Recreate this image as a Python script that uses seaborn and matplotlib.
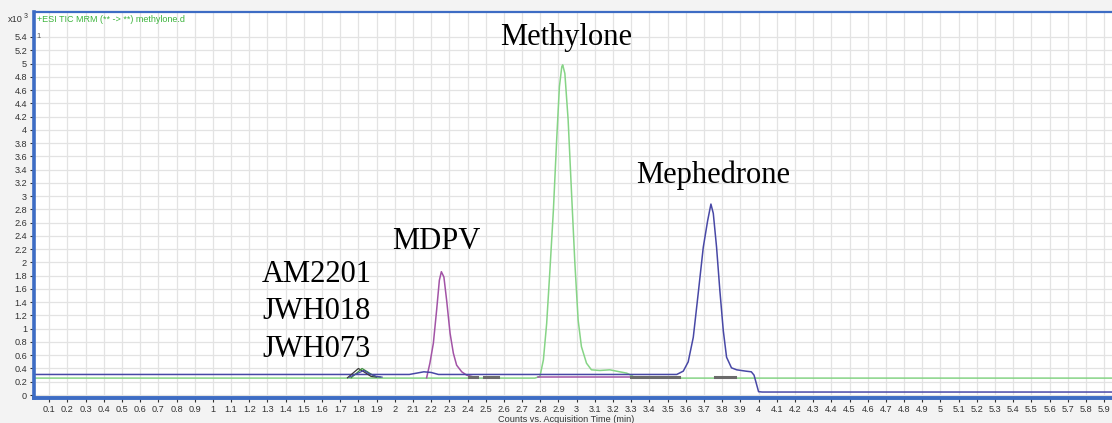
import numpy as np
import pandas as pd
import matplotlib
matplotlib.use('Agg')
import matplotlib.pyplot as plt
import seaborn as sns

# chromatogram traces: time (min), counts (x10^3)
methylone_t = [0.0, 2.77, 2.798, 2.817, 2.835, 2.853, 2.872, 2.89, 2.905, 2.918, 2.923, 2.935,
               2.953, 2.971, 2.99, 3.008, 3.026, 3.054, 3.081, 3.127, 3.182, 3.237, 3.275, 3.305,
               3.32, 5.95]
methylone_v = [0.255, 0.255, 0.28, 0.53, 1.08, 1.89, 2.79, 3.85, 4.65, 4.95, 4.98, 4.85,
               4.15, 3.09, 1.99, 1.13, 0.73, 0.48, 0.38, 0.37, 0.38, 0.35, 0.33, 0.29,
               0.255, 0.255]

mephedrone_t = [0.0, 2.08, 2.12, 2.16, 2.2, 2.24, 3.55, 3.586, 3.613, 3.641, 3.668, 3.696,
                3.72, 3.738, 3.751, 3.769, 3.787, 3.806, 3.824, 3.851, 3.88, 3.93, 3.96,
                3.975, 3.99, 4.0, 4.02, 5.95]
mephedrone_v = [0.31, 0.31, 0.33, 0.35, 0.34, 0.31, 0.31, 0.36, 0.5, 0.87, 1.53, 2.23,
                2.63, 2.88, 2.74, 2.23, 1.58, 0.97, 0.57, 0.41, 0.38, 0.36, 0.35,
                0.3, 0.15, 0.05, 0.045, 0.045]

mdpv_t = [2.175, 2.193, 2.212, 2.23, 2.245, 2.256, 2.27, 2.285, 2.304, 2.322, 2.34, 2.368,
          2.395, 2.423]
mdpv_v = [0.26, 0.48, 0.78, 1.28, 1.73, 1.86, 1.78, 1.43, 0.93, 0.63, 0.45, 0.35, 0.3, 0.28]
mdpv_flat_t = [2.79, 3.32]
mdpv_flat_v = [0.265, 0.265]

# small cannabinoid peaks around 1.8 min
am2201_t = [1.74, 1.77, 1.80, 1.83, 1.87, 1.90]
am2201_v = [0.26, 0.33, 0.40, 0.35, 0.28, 0.27]
jwh018_t = [1.76, 1.79, 1.82, 1.85, 1.89, 1.92]
jwh018_v = [0.26, 0.33, 0.40, 0.35, 0.28, 0.27]
jwh073_t = [1.75, 1.79, 1.83, 1.86, 1.90, 1.93]
jwh073_v = [0.27, 0.32, 0.37, 0.32, 0.28, 0.27]

# integration baseline marks
mark_start = [2.41, 2.49, 3.30, 3.76]
mark_end = [2.45, 2.57, 3.56, 3.87]
mark_level = [0.27, 0.27, 0.265, 0.265]

x_ticks = [round(0.1 * i, 1) for i in range(1, 60)]
y_ticks = [round(0.2 * i, 1) for i in range(0, 28)]

fig = plt.figure(figsize=(11.12, 4.23), dpi=100, facecolor='#f3f3f3')
ax = fig.add_axes([34 / 1112, 1 - 398 / 423, 1 - 34 / 1112, (398 - 12) / 423])
ax.set_facecolor('white')


def trace(t, v, color, lw=1.1):
    df = pd.DataFrame({'t': t, 'v': v})
    sns.lineplot(data=df, x='t', y='v', color=color, lw=lw, ax=ax,
                 estimator=None, sort=False, legend=False)


trace(methylone_t, methylone_v, '#86d486')
trace(mdpv_t, mdpv_v, '#a253a6')
trace(mdpv_flat_t, mdpv_flat_v, '#a253a6')
trace(mephedrone_t, mephedrone_v, '#4848a6')
trace(am2201_t, am2201_v, '#3a3a3a', 0.9)
trace(jwh018_t, jwh018_v, '#3d8f3d', 0.9)
trace(jwh073_t, jwh073_v, '#4848a6', 0.9)
for s, e, lv in zip(mark_start, mark_end, mark_level):
    trace([s, e], [lv, lv], '#6b6b6b', 2.2)

ax.set_xlim(0.0165, 5.943)
ax.set_ylim(-0.045, 5.777)
ax.set_xticks(x_ticks)
ax.set_xticklabels([f'{v:g}' for v in x_ticks])
ax.set_yticks(y_ticks)
ax.set_yticklabels([f'{v:g}' for v in y_ticks])
ax.set_xlabel('')
ax.set_ylabel('')
ax.grid(True, color='#e3e3e3', lw=0.9)
ax.set_axisbelow(True)
ax.tick_params(labelsize=6.6, colors='#333333', length=3, width=0.8, pad=2)
for lab in ax.get_xticklabels() + ax.get_yticklabels():
    lab.set_family('Liberation Sans')

ax.spines['right'].set_visible(False)
ax.spines['left'].set_color('#3d6cc4')
ax.spines['left'].set_linewidth(2.6)
ax.spines['bottom'].set_color('#3d6cc4')
ax.spines['bottom'].set_linewidth(2.8)
ax.spines['top'].set_color('#3d6cc4')
ax.spines['top'].set_linewidth(1.6)

# compound labels
serif = 'Liberation Serif'
ax.text(2.94, 5.28, 'Methylone', family=serif, fontsize=22, ha='center', va='baseline')
ax.text(3.75, 3.20, 'Mephedrone', family=serif, fontsize=22, ha='center', va='baseline')
ax.text(2.227, 2.20, 'MDPV', family=serif, fontsize=22, ha='center', va='baseline')
ax.text(1.27, 1.70, 'AM2201', family=serif, fontsize=22, ha='left', va='baseline')
ax.text(1.27, 1.14, 'JWH018', family=serif, fontsize=22, ha='left', va='baseline')
ax.text(1.27, 0.58, 'JWH073', family=serif, fontsize=22, ha='left', va='baseline')

ax.text(0.03, 5.4, '1', fontsize=5.5, color='#555555', va='center', family='Liberation Sans')
fig.text(37 / 1112, 1 - 19 / 423, '+ESI TIC MRM (** -> **) methylone.d', fontsize=6.5,
         color='#3cb43c', va='center', family='Liberation Sans')
fig.text(8 / 1112, 1 - 20 / 423, 'x10', fontsize=6.6, color='#333333', va='center',
         family='Liberation Sans')
fig.text(24 / 1112, 1 - 17 / 423, '3', fontsize=5, color='#333333', va='center',
         family='Liberation Sans')
fig.text(566 / 1112, 1 - 419 / 423, 'Counts vs. Acquisition Time (min)', fontsize=6.6,
         color='#333333', ha='center', va='center', family='Liberation Sans')

plt.savefig('out.png', dpi=100, facecolor=fig.get_facecolor())
